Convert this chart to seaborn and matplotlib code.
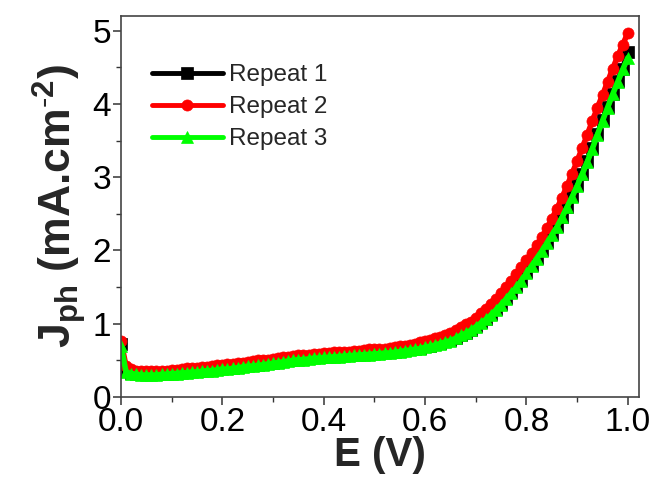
import numpy as np
import matplotlib
matplotlib.use('Agg')
import matplotlib.pyplot as plt
from matplotlib.ticker import MultipleLocator, FormatStrFormatter
import seaborn as sns

# potential sweep (V)
E = [0.00, 0.01, 0.02, 0.03, 0.04, 0.05, 0.06, 0.07, 0.08, 0.09,
     0.10, 0.11, 0.12, 0.13, 0.14, 0.15, 0.16, 0.17, 0.18, 0.19,
     0.20, 0.21, 0.22, 0.23, 0.24, 0.25, 0.26, 0.27, 0.28, 0.29,
     0.30, 0.31, 0.32, 0.33, 0.34, 0.35, 0.36, 0.37, 0.38, 0.39,
     0.40, 0.41, 0.42, 0.43, 0.44, 0.45, 0.46, 0.47, 0.48, 0.49,
     0.50, 0.51, 0.52, 0.53, 0.54, 0.55, 0.56, 0.57, 0.58, 0.59,
     0.60, 0.61, 0.62, 0.63, 0.64, 0.65, 0.66, 0.67, 0.68, 0.69,
     0.70, 0.71, 0.72, 0.73, 0.74, 0.75, 0.76, 0.77, 0.78, 0.79,
     0.80, 0.81, 0.82, 0.83, 0.84, 0.85, 0.86, 0.87, 0.88, 0.89,
     0.90, 0.91, 0.92, 0.93, 0.94, 0.95, 0.96, 0.97, 0.98, 0.99,
     1.00]

# photocurrent density (mA/cm2)
repeat1 = [0.72, 0.35, 0.33, 0.32, 0.31, 0.31, 0.31, 0.31, 0.32, 0.32,
           0.33, 0.33, 0.34, 0.34, 0.35, 0.35, 0.36, 0.37, 0.37, 0.38,
           0.39, 0.39, 0.40, 0.41, 0.42, 0.43, 0.43, 0.44, 0.45, 0.46,
           0.47, 0.48, 0.49, 0.50, 0.51, 0.52, 0.52, 0.53, 0.54, 0.54,
           0.55, 0.55, 0.56, 0.56, 0.57, 0.57, 0.58, 0.58, 0.59, 0.59,
           0.60, 0.60, 0.61, 0.61, 0.62, 0.63, 0.64, 0.65, 0.66, 0.67,
           0.69, 0.70, 0.72, 0.74, 0.76, 0.78, 0.81, 0.85, 0.88, 0.92,
           0.97, 1.02, 1.07, 1.13, 1.20, 1.27, 1.35, 1.43, 1.51, 1.60,
           1.70, 1.80, 1.90, 2.00, 2.11, 2.22, 2.33, 2.46, 2.60, 2.74,
           2.89, 3.05, 3.22, 3.40, 3.59, 3.78, 3.96, 4.14, 4.31, 4.48,
           4.71]

repeat2 = [0.76, 0.42, 0.38, 0.36, 0.35, 0.35, 0.35, 0.35, 0.36, 0.36,
           0.37, 0.37, 0.38, 0.39, 0.39, 0.40, 0.41, 0.41, 0.42, 0.43,
           0.44, 0.45, 0.45, 0.46, 0.47, 0.48, 0.49, 0.50, 0.50, 0.51,
           0.52, 0.53, 0.54, 0.55, 0.56, 0.57, 0.57, 0.58, 0.59, 0.59,
           0.60, 0.60, 0.61, 0.61, 0.62, 0.62, 0.63, 0.63, 0.64, 0.65,
           0.65, 0.66, 0.66, 0.67, 0.68, 0.69, 0.70, 0.71, 0.73, 0.75,
           0.77, 0.78, 0.80, 0.82, 0.85, 0.88, 0.91, 0.95, 0.99, 1.03,
           1.08, 1.14, 1.20, 1.27, 1.34, 1.42, 1.50, 1.59, 1.68, 1.77,
           1.87, 1.97, 2.07, 2.18, 2.30, 2.43, 2.57, 2.72, 2.88, 3.05,
           3.22, 3.40, 3.58, 3.77, 3.95, 4.12, 4.30, 4.48, 4.65, 4.81,
           4.97]

repeat3 = [0.70, 0.34, 0.32, 0.31, 0.30, 0.30, 0.30, 0.30, 0.31, 0.31,
           0.32, 0.32, 0.33, 0.33, 0.34, 0.34, 0.35, 0.36, 0.36, 0.37,
           0.38, 0.38, 0.39, 0.40, 0.41, 0.42, 0.42, 0.43, 0.44, 0.45,
           0.46, 0.47, 0.48, 0.49, 0.50, 0.51, 0.51, 0.52, 0.53, 0.53,
           0.54, 0.54, 0.55, 0.55, 0.56, 0.56, 0.57, 0.57, 0.58, 0.58,
           0.59, 0.59, 0.60, 0.60, 0.61, 0.62, 0.63, 0.64, 0.65, 0.66,
           0.68, 0.69, 0.71, 0.73, 0.75, 0.77, 0.80, 0.84, 0.87, 0.91,
           0.96, 1.01, 1.06, 1.12, 1.19, 1.26, 1.34, 1.42, 1.50, 1.59,
           1.69, 1.79, 1.89, 1.99, 2.10, 2.21, 2.32, 2.45, 2.59, 2.73,
           2.88, 3.04, 3.21, 3.39, 3.58, 3.77, 3.95, 4.13, 4.30, 4.47,
           4.63]

labels = ['Repeat 1', 'Repeat 2', 'Repeat 3']
colors = ['#000000', '#ff0000', '#00ff00']
markers = ['s', 'o', '^']

sns.set_style('ticks')
plt.rcParams['font.family'] = ['Liberation Sans', 'DejaVu Sans']
plt.rcParams['mathtext.fontset'] = 'custom'
plt.rcParams['mathtext.rm'] = 'Liberation Sans'
plt.rcParams['mathtext.bf'] = 'Liberation Sans:bold'
plt.rcParams['mathtext.it'] = 'Liberation Sans:italic'

fig = plt.figure(figsize=(6.51, 4.79), dpi=100)
ax = fig.add_axes([121 / 651, 1 - 397 / 479, 518 / 651, 381 / 479])

for ys, lab, c, m in zip([repeat1, repeat2, repeat3], labels, colors, markers):
    sns.lineplot(x=E, y=ys, ax=ax, color=c, marker=m, markersize=8,
                 markeredgecolor=c, markeredgewidth=0.5, linewidth=4,
                 label=lab)

ax.set_xlim(0, 1.022)
ax.set_ylim(0, 5.2)
ax.xaxis.set_major_locator(MultipleLocator(0.2))
ax.xaxis.set_minor_locator(MultipleLocator(0.1))
ax.yaxis.set_major_locator(MultipleLocator(1))
ax.yaxis.set_minor_locator(MultipleLocator(0.5))
ax.xaxis.set_major_formatter(FormatStrFormatter('%.1f'))

ax.tick_params(which='major', direction='out', length=6, width=1.1,
               labelsize=24, pad=1, color='#333333', labelcolor='black')
ax.tick_params(which='minor', direction='out', length=3.5, width=1.0,
               color='#333333')
for s in ax.spines.values():
    s.set_linewidth(1.2)
    s.set_color('#444444')

ax.set_xlabel('E (V)', fontsize=29, fontweight='bold', labelpad=-1)
ax.set_ylabel(r'J$_{\mathbf{ph}}$ (mA.cm$^{\mathbf{\text{-}2}}$)', fontsize=32,
              fontweight='bold', labelpad=3)

leg = ax.legend(loc='upper left', bbox_to_anchor=(0.06, 0.874), frameon=False,
                handlelength=2.9, handletextpad=0.25,
                labelspacing=0.42, borderpad=0, borderaxespad=0,
                prop={'family': ['Liberation Sans', 'DejaVu Sans'], 'size': 17.5})
for h in leg.legend_handles:
    h.set_linewidth(3.5)

fig.savefig('out.png', dpi=100)
